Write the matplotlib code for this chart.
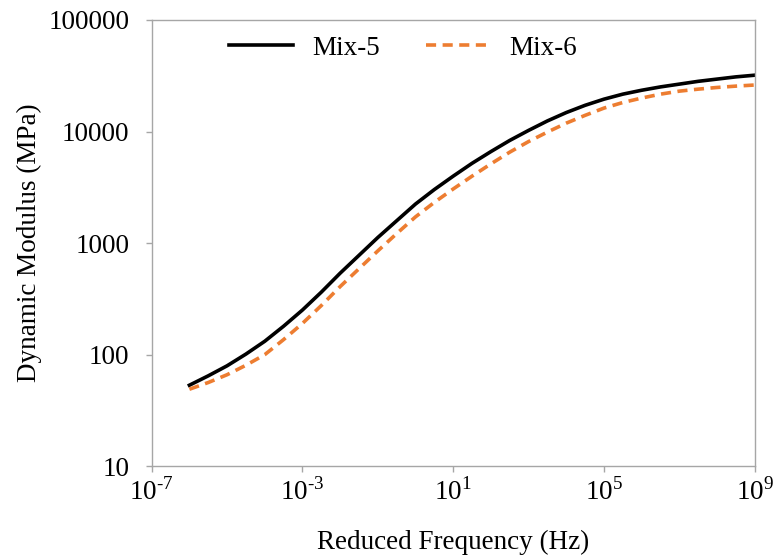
import numpy as np
import matplotlib
matplotlib.use("Agg")
import matplotlib.pyplot as plt

plt.rcParams['font.family'] = ['Liberation Serif', 'DejaVu Serif']
plt.rcParams['mathtext.fontset'] = 'custom'
plt.rcParams['mathtext.rm'] = 'Liberation Serif'

# reduced frequency (Hz), log10, every half decade
log_freq = [-6, -5.5, -5, -4.5, -4, -3.5, -3, -2.5, -2, -1.5, -1, -0.5, 0, 0.5,
            1, 1.5, 2, 2.5, 3, 3.5, 4, 4.5, 5, 5.5, 6, 6.5, 7, 7.5, 8, 8.5, 9]
# log10 of dynamic modulus (MPa)
mix5_log = [1.726, 1.81, 1.90, 2.005, 2.12, 2.255, 2.40, 2.56, 2.73, 2.89,
            3.05, 3.20, 3.35, 3.48, 3.60, 3.715, 3.82, 3.92, 4.01, 4.095,
            4.17, 4.235, 4.29, 4.335, 4.37, 4.40, 4.425, 4.45, 4.47, 4.49, 4.505]
mix6_log = [1.69, 1.75, 1.82, 1.905, 2.00, 2.135, 2.28, 2.44, 2.61, 2.77,
            2.93, 3.085, 3.235, 3.365, 3.485, 3.60, 3.71, 3.815, 3.91, 3.995,
            4.075, 4.145, 4.21, 4.26, 4.30, 4.335, 4.362, 4.38, 4.395, 4.407, 4.417]

freq = 10.0 ** np.array(log_freq)
mix5 = 10.0 ** np.array(mix5_log)
mix6 = 10.0 ** np.array(mix6_log)

xticks = [1e-7, 1e-3, 1e1, 1e5, 1e9]
xtick_labels = [r'$10^{\text{-7}}$', r'$10^{\text{-3}}$', r'$10^{1}$', r'$10^{5}$', r'$10^{9}$']
yticks = [10, 100, 1000, 10000, 100000]
ytick_labels = ['10', '100', '1000', '10000', '100000']

fig = plt.figure(figsize=(7.74, 5.55), dpi=100)
ax = fig.add_axes([0.196, 0.160, 0.779, 0.804])

ax.plot(freq, mix5, color='black', lw=2.6, label='Mix-5')
ax.plot(freq, mix6, color='#ED7D31', lw=2.6, linestyle=(0, (2.8, 1.8)), label='Mix-6')

ax.set_xscale('log')
ax.set_yscale('log')
ax.set_xlim(1e-7, 1e9)
ax.set_ylim(10, 100000)
ax.set_xticks(xticks)
ax.set_xticklabels(xtick_labels)
ax.set_yticks(yticks)
ax.set_yticklabels(ytick_labels)
ax.minorticks_off()

for s in ax.spines.values():
    s.set_color('#a6a6a6')
    s.set_linewidth(1.0)
ax.tick_params(direction='out', length=4, width=1, color='#a6a6a6',
               labelsize=19.5)
ax.tick_params(axis='x', pad=4)
ax.tick_params(axis='y', pad=12)

ax.set_xlabel('Reduced Frequency (Hz)', fontsize=19.5, labelpad=17.5)
ax.set_ylabel('Dynamic Modulus (MPa)', fontsize=19.5, labelpad=5)

ax.legend(loc='center left', bbox_to_anchor=(0.129, 0.937), ncol=2, frameon=False,
          fontsize=19.5, handlelength=2.35, columnspacing=1.7, handletextpad=0.72,
          borderpad=0, borderaxespad=0)

plt.savefig('out.png', dpi=100)
